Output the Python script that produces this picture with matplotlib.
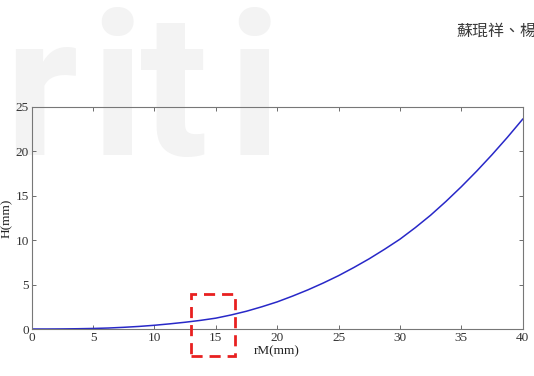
import matplotlib
matplotlib.use("Agg")
import matplotlib.pyplot as plt
from matplotlib.patches import Rectangle

# curve values (every 1.25 mm)
r_mm = [0, 1.25, 2.5, 3.75, 5, 6.25, 7.5, 8.75, 10, 11.25, 12.5, 13.75, 15, 16.25,
        17.5, 18.75, 20, 21.25, 22.5, 23.75, 25, 26.25, 27.5, 28.75, 30, 31.25,
        32.5, 33.75, 35, 36.25, 37.5, 38.75, 40]
h_mm = [0, 0.0, 0.01, 0.03, 0.06, 0.11, 0.19, 0.29, 0.42, 0.58, 0.76, 0.97, 1.22, 1.58,
        2.0, 2.5, 3.05, 3.7, 4.4, 5.17, 6.0, 6.92, 7.9, 8.97, 10.1, 11.4,
        12.8, 14.35, 16.0, 17.75, 19.6, 21.55, 23.6]

x_ticks = [0, 5, 10, 15, 20, 25, 30, 35, 40]
y_ticks = [0, 5, 10, 15, 20, 25]

# highlighted region (data coords)
box_x = (12.95, 16.55)
box_y = (-3.05, 3.9)

fig = plt.figure(figsize=(5.34, 3.76), dpi=100)

# faint watermark letters behind the chart
for ch, xp in zip("riti", [4, 90, 140, 227]):
    fig.text(xp / 534, 1 - 155 / 376, ch, fontsize=145, family="Roboto",
             weight="bold", color="#f3f3f3", va="baseline", ha="left", zorder=-5)

fig.text(457 / 534, 1 - 31 / 376, "蘇琨祥、楊", fontsize=11.5, color="#3a3a3a",
         family=["Noto Sans CJK TC", "DejaVu Sans"], ha="left", va="center")

ax = fig.add_axes([31.7 / 534, 1 - 329 / 376, (522.7 - 31.7) / 534, (329 - 106.7) / 376])
ax.set_zorder(2)
ax.patch.set_alpha(0)

ax.plot(r_mm, h_mm, color="#2828c8", linewidth=1.1)

rect = Rectangle((box_x[0], box_y[0]), box_x[1] - box_x[0], box_y[1] - box_y[0],
                 fill=False, edgecolor="#e82020", linewidth=2.0,
                 linestyle=(0, (4, 2.5)), clip_on=False, zorder=5)
ax.add_patch(rect)

ax.set_xlim(0, 40)
ax.set_ylim(0, 25)
ax.set_xticks(x_ticks)
ax.set_yticks(y_ticks)
ax.tick_params(direction="in", length=3, width=0.6, color="#555555",
               top=True, right=True, labelsize=9.5, labelcolor="#333333", pad=2)
for lbl in ax.get_xticklabels() + ax.get_yticklabels():
    lbl.set_family("Liberation Serif")
for sp in ax.spines.values():
    sp.set_color("#777777")
    sp.set_linewidth(0.8)

ax.set_xlabel("rM(mm)", family="Liberation Serif", fontsize=9.5, color="#222222", labelpad=1)
ax.set_ylabel("H(mm)", family="Liberation Serif", fontsize=9.5, color="#222222", labelpad=2)

fig.savefig("out.png", dpi=100)
